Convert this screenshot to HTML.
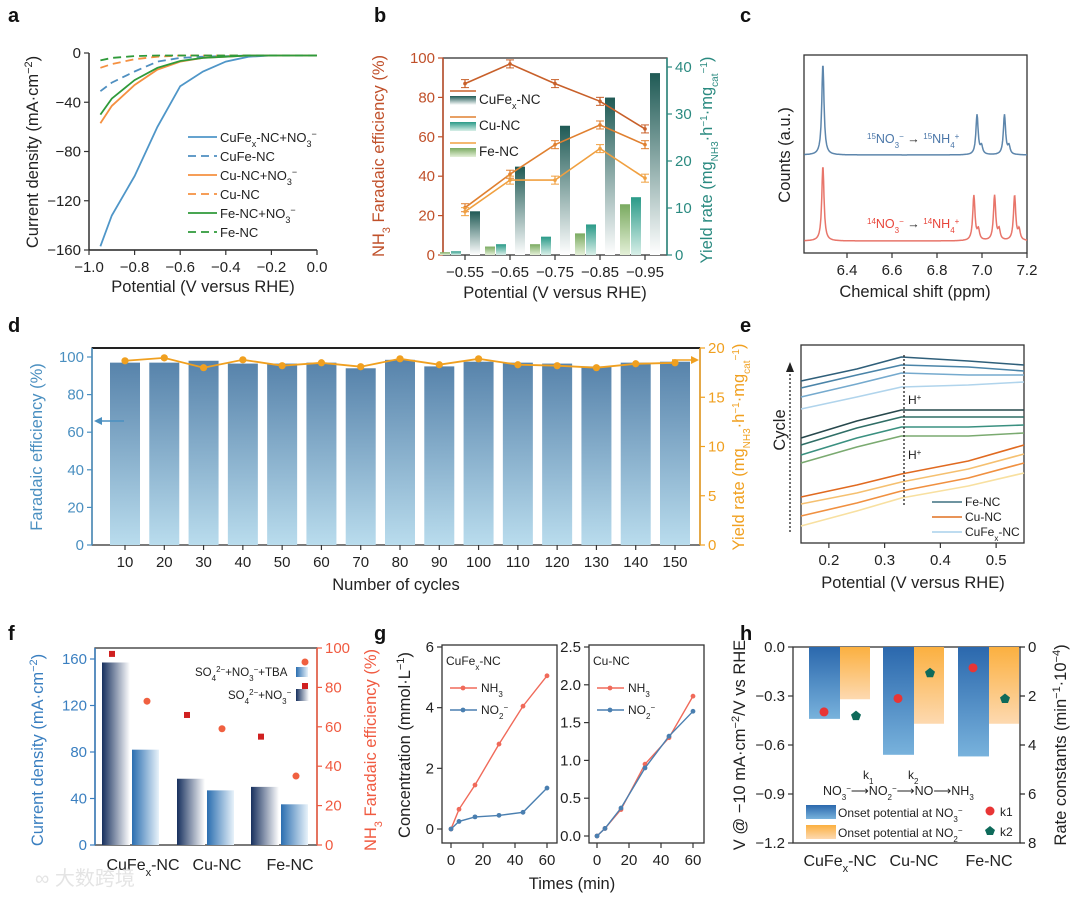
<!DOCTYPE html>
<html><head><meta charset="utf-8"><style>
body{margin:0;background:#fff}
svg{display:block;font-family:"Liberation Sans","Noto Sans CJK SC",sans-serif}
</style></head><body>
<svg id="fig" width="1080" height="898" viewBox="0 0 1080 898" xmlns="http://www.w3.org/2000/svg">
<defs>
<linearGradient id="gB1" x1="0" y1="0" x2="0" y2="1"><stop offset="0" stop-color="#1f5a55"/><stop offset="1" stop-color="#ffffff"/></linearGradient>
<linearGradient id="gB2" x1="0" y1="0" x2="0" y2="1"><stop offset="0" stop-color="#2a9a88"/><stop offset="1" stop-color="#d8efe8"/></linearGradient>
<linearGradient id="gB3" x1="0" y1="0" x2="0" y2="1"><stop offset="0" stop-color="#7aaa60"/><stop offset="1" stop-color="#e4f0d8"/></linearGradient>
<linearGradient id="gD" x1="0" y1="0" x2="0" y2="1"><stop offset="0" stop-color="#5783ab"/><stop offset="1" stop-color="#b9dced"/></linearGradient>
<linearGradient id="gF1" x1="0" y1="0" x2="1" y2="0"><stop offset="0" stop-color="#17305e"/><stop offset="1" stop-color="#ffffff"/></linearGradient>
<linearGradient id="gF2" x1="0" y1="0" x2="1" y2="0"><stop offset="0" stop-color="#2a6eb0"/><stop offset="1" stop-color="#e8f2fa"/></linearGradient>
<linearGradient id="gH1" x1="0" y1="0" x2="0" y2="1"><stop offset="0" stop-color="#2b68ad"/><stop offset="1" stop-color="#78b2dc"/></linearGradient>
<linearGradient id="gH2" x1="0" y1="0" x2="0" y2="1"><stop offset="0" stop-color="#fbb040"/><stop offset="1" stop-color="#fdd9b0"/></linearGradient>
</defs>
</svg>
<script>
// ---- data arrays ----
// a
const aPot=[-0.95,-0.9,-0.8,-0.7,-0.6,-0.5,-0.4,-0.3,-0.2,-0.1,0];
const aCuFeNO3=[-157,-132,-100,-60,-27,-15,-7,-3,-2,-2,-2];
const aCuFe=[-31,-24,-15,-7,-4,-3,-2.5,-2,-2,-2,-2];
const aCuNO3=[-57,-43,-26,-13.5,-7,-4,-3,-2,-2,-2,-2];
const aCu=[-12,-9,-5,-3,-2,-2,-2,-2,-2,-2,-2];
const aFeNO3=[-50,-37,-22,-12,-6.5,-4,-3,-2,-2,-2,-2];
const aFe=[-6,-4,-2.5,-2,-2,-2,-2,-2,-2,-2,-2];
const aXTicks=[-1,-0.8,-0.6,-0.4,-0.2,0];
const aYTicks=[0,-40,-80,-120,-160];
// b
const bCats=["−0.55","−0.65","−0.75","−0.85","−0.95"];
const bYieldFe=[0.6,1.8,2.3,4.6,10.8];
const bYieldCu=[0.8,2.3,3.9,6.5,12.3];
const bYieldCuFe=[9.3,18.8,27.5,33.5,38.7];
const bFECuFe=[87,97,87,78,64];
const bFECu=[24,41,56,66,56];
const bFEFe=[22,38,38,54,39];
const bLTicks=[0,20,40,60,80,100];
const bRTicks=[0,10,20,30,40];
// c
const cTicks=[6.4,6.6,6.8,7.0,7.2];
const cPeaks15=[6.293,6.978,6.998,7.10,7.12];
const cH15=[91,40,8,40,8];
const cPeaks14=[6.293,6.964,6.984,7.056,7.076,7.145,7.165];
const cH14=[75,45,10,45,10,45,10];
// d
const dCycles=[10,20,30,40,50,60,70,80,90,100,110,120,130,140,150];
const dFE=[97,97,98,96.5,96.5,97,94,98.5,95,97.5,97,96.5,95,97,97.5];
const dYield=[18.7,19.0,18.0,18.8,18.2,18.5,18.1,18.9,18.3,18.9,18.3,18.2,18.0,18.4,18.5];
const dLTicks=[0,20,40,60,80,100];
const dRTicks=[0,5,10,15,20];
// e
const ePot=[0.15,0.25,0.33,0.45,0.55];
const eCurves=[[8.1,8.7,9.3,9.1,8.9],[7.75,8.4,8.9,8.8,8.6],[7.3,7.95,8.5,8.4,8.4],[6.7,7.3,7.8,7.9,8.05],
 [5.25,6.1,6.65,6.65,6.65],[4.9,5.75,6.3,6.3,6.3],[4.4,5.25,5.8,5.8,5.9],[4.0,4.8,5.35,5.35,5.5],
 [2.3,2.9,3.45,4.1,4.9],[1.95,2.5,3.05,3.7,4.45],[1.35,2.0,2.6,3.25,4.0],[0.85,1.6,2.25,2.85,3.5]];
const eTicks=[0.2,0.3,0.4,0.5];
// f
const fCats=["CuFe<tspan baseline-shift='sub' font-size='11'>x</tspan>-NC","Cu-NC","Fe-NC"];
const fCurDark=[157,57,50];
const fCurLight=[82,47,35];
const fFEsq=[97,66,55];
const fFEci=[73,59,35];
const fLTicks=[0,40,80,120,160];
const fRTicks=[0,20,40,60,80,100];
// g
const gTime=[0,5,15,30,45,60];
const gNH3a=[0,0.65,1.45,2.8,4.05,5.05];
const gNO2a=[0,0.25,0.4,0.45,0.55,1.35];
const gNH3b=[0,0.1,0.35,0.95,1.3,1.85];
const gNO2b=[0,0.1,0.37,0.9,1.32,1.65];
const gYa=[0,2,4,6];
const gYb=[0,0.5,1.0,1.5,2.0,2.5];
const gX=[0,20,40,60];
// h
const hCats=["CuFe<tspan baseline-shift='sub' font-size='11'>x</tspan>-NC","Cu-NC","Fe-NC"];
const hOnsetNO3=[-0.44,-0.66,-0.67];
const hOnsetNO2=[-0.32,-0.47,-0.47];
const hK1=[2.65,2.1,0.85];
const hK2=[2.8,1.05,2.1];
const hLTicks=[0,-0.3,-0.6,-0.9,-1.2];
const hRTicks=[0,2,4,6,8];

// ---- helpers ----
const NS="http://www.w3.org/2000/svg";
const S=document.getElementById('fig');
function mk(t,a,p){const e=document.createElementNS(NS,t);for(const k in a)e.setAttribute(k,a[k]);(p||S).appendChild(e);return e;}
function tx(x,y,s,a,p){const e=mk('text',Object.assign({x:x,y:y,'font-size':15,fill:'#222'},a||{}),p);e.innerHTML=s;return e;}
function lin(d0,d1,r0,r1){return v=>r0+(v-d0)*(r1-r0)/(d1-d0);}
function grp(name){const g=mk('g',{});return g;}
function fmt(v,d){return (v<0?'−':'')+Math.abs(v).toFixed(d);}
function box(g,x0,y0,x1,y1,col){const r=mk('rect',{x:x0,y:y0,width:x1-x0,height:y1-y0,fill:'none',stroke:col||'#333','stroke-width':1.3},g);}
function xt(g,ticks,sx,y,d,lab){ticks.forEach((v,i)=>{const x=sx(v);mk('line',{x1:x,x2:x,y1:y,y2:y+5,stroke:'#333','stroke-width':1.2},g);const t=tx(x,y+22,lab?lab[i]:fmt(v,d),{'text-anchor':'middle'},g);});}
function yt(g,ticks,sy,x,d,col,right){ticks.forEach(v=>{const y=sy(v);mk('line',{x1:x,x2:right?x+5:x-5,y1:y,y2:y,stroke:col||'#333','stroke-width':1.2},g);const t=tx(right?x+8:x-8,y+5,fmt(v,d),{'text-anchor':right?'start':'end',fill:col||'#222'},g);});}
function ytitle(g,x,y,s,col,name){const t=tx(x,y,s,{'text-anchor':'middle',transform:`rotate(-90 ${x} ${y})`,'font-size':16.5,fill:col||'#222'},g);return t;}
function xtitle(g,x,y,s,name){const t=tx(x,y,s,{'text-anchor':'middle','font-size':16.5},g);return t;}
function pl(g,xs,ys,sx,sy,a){const pts=xs.map((v,i)=>sx(v).toFixed(1)+','+sy(ys[i]).toFixed(1)).join(' ');return mk('polyline',Object.assign({points:pts,fill:'none'},a),g);}
function letter(x,y,s){const t=tx(x,y,s,{'font-size':20,'font-weight':'bold',fill:'#111'});}
['a',8,22,'b',374,22,'c',740,22,'d',8,332,'e',740,332,'f',8,640,'g',374,640,'h',740,640].forEach((v,i,arr)=>{if(i%3==0)letter(arr[i+1],arr[i+2],v);});

// ---- panel a ----
(function(){const g=grp('panel-a-lsv');
const sx=lin(-1,0,89,317),sy=lin(-160,0,250,53);
mk('line',{x1:89,x2:89,y1:53,y2:250,stroke:'#222','stroke-width':1.4},g);
mk('line',{x1:89,x2:317,y1:250,y2:250,stroke:'#222','stroke-width':1.4},g);
xt(g,aXTicks,sx,250,1);yt(g,aYTicks,sy,89,0);
ytitle(g,38,152,'Current density (mA·cm<tspan baseline-shift="super" font-size="11">−2</tspan>)','#222','y-axis-title');
xtitle(g,203,292,'Potential (V versus RHE)','x-axis-title');
const ser=[[aCuFeNO3,'#4f96c8',''],[aCuFe,'#4f8fc0','8 5'],[aCuNO3,'#f59040',''],[aCu,'#f59040','8 5'],[aFeNO3,'#2f9a3a',''],[aFe,'#2f9a3a','8 5']];
ser.forEach(s=>{const l=pl(g,aPot,s[0],sx,sy,{stroke:s[1],'stroke-width':1.8,'stroke-dasharray':s[2]});

});
const labs=['CuFe<tspan baseline-shift="sub" font-size="9">x</tspan>-NC+NO<tspan baseline-shift="sub" font-size="9">3</tspan><tspan baseline-shift="super" font-size="9">−</tspan>','CuFe-NC','Cu-NC+NO<tspan baseline-shift="sub" font-size="9">3</tspan><tspan baseline-shift="super" font-size="9">−</tspan>','Cu-NC','Fe-NC+NO<tspan baseline-shift="sub" font-size="9">3</tspan><tspan baseline-shift="super" font-size="9">−</tspan>','Fe-NC'];
labs.forEach((s,i)=>{const y=137+i*19;const e=mk('line',{x1:188,x2:217,y1:y,y2:y,stroke:ser[i][1],'stroke-width':1.8,'stroke-dasharray':ser[i][2]},g);
const t=tx(220,y+5,s,{'font-size':13},g);});
})();

// ---- panel b ----
(function(){const g=grp('panel-b-fe-yield');
const cx=i=>465+i*45,sl=lin(0,100,255,58),sr=lin(0,40,255,67);
box(g,443,58,667,255,'#333');
mk('line',{x1:443,x2:443,y1:58,y2:255,stroke:'#c0502a','stroke-width':1.5},g);
mk('line',{x1:667,x2:667,y1:58,y2:255,stroke:'#2a8a80','stroke-width':1.5},g);
xt(g,[0,1,2,3,4],cx,255,0,bCats);
yt(g,bLTicks,sl,443,0,'#c0502a');yt(g,bRTicks,sr,667,0,'#2a8a80',true);
ytitle(g,384,156,'NH<tspan baseline-shift="sub" font-size="11">3</tspan> Faradaic efficiency (%)','#c0502a','left-y-axis-title');
ytitle(g,712,160,'Yield rate (mg<tspan baseline-shift="sub" font-size="10">NH3</tspan>·h<tspan baseline-shift="super" font-size="10">−1</tspan>·mg<tspan baseline-shift="sub" font-size="10">cat</tspan><tspan baseline-shift="super" font-size="10">−1</tspan>)','#2a8a80','right-y-axis-title');
xtitle(g,555,298,'Potential (V versus RHE)','x-axis-title');
[[bYieldFe,-20,'gB3'],[bYieldCu,-9,'gB2'],[bYieldCuFe,10,'gB1']].forEach(s=>s[0].forEach((v,i)=>{const x=cx(i)+s[1]-5;
const r=mk('rect',{x:x,y:sr(v),width:10,height:255-sr(v),fill:`url(#${s[2]})`},g);

}));
[[bFECuFe,'#c8602a'],[bFECu,'#e08030'],[bFEFe,'#f0a040']].forEach(s=>{const l=pl(g,[0,1,2,3,4],s[0],cx,sl,{stroke:s[1],'stroke-width':1.6});


s[0].forEach((v,i)=>{const y=sl(v);mk('line',{x1:cx(i),x2:cx(i),y1:y-4,y2:y+4,stroke:s[1],'stroke-width':1.2},g);mk('line',{x1:cx(i)-4,x2:cx(i)+4,y1:y-4,y2:y-4,stroke:s[1]},g);mk('line',{x1:cx(i)-4,x2:cx(i)+4,y1:y+4,y2:y+4,stroke:s[1]},g);mk('circle',{cx:cx(i),cy:y,r:1.8,fill:s[1]},g);});});
const L=[['#c8602a','gB1','CuFe<tspan baseline-shift="sub" font-size="9">x</tspan>-NC'],['#e08030','gB2','Cu-NC'],['#f0a040','gB3','Fe-NC']];
L.forEach((s,i)=>{const y=97+i*26;mk('line',{x1:450,x2:476,y1:y-6,y2:y-6,stroke:s[0],'stroke-width':1.6},g);const r=mk('rect',{x:450,y:y-1,width:26,height:9,fill:`url(#${s[1]})`},g);
const t=tx(479,y+7,s[2],{'font-size':13.5},g);});
})();

// ---- panel c ----
(function(){const g=grp('panel-c-nmr');
const sx=lin(6.4,7.2,847,1027);
box(g,804,55,1027,253);
xt(g,cTicks,sx,253,1);
ytitle(g,790,155,'Counts (a.u.)','#222','y-axis-title');
xtitle(g,915,297,'Chemical shift (ppm)','x-axis-title');
function spec(peaks,hs,base,col,name){const xs=[],ys=[];for(let x=6.21;x<=7.2;x+=0.002){let y=0;peaks.forEach((p,i)=>{y+=hs[i]/(1+Math.pow((x-p)/0.006,2));});xs.push(x);ys.push(base-y);}
const l=pl(g,xs,ys,sx,v=>v,{stroke:col,'stroke-width':1.5});}
spec(cPeaks15,cH15,155,'#5d86ac','spectrum-15N');
spec(cPeaks14,cH14,241,'#e8756a','spectrum-14N');
let t=tx(867,143,'<tspan baseline-shift="super" font-size="8">15</tspan>NO<tspan baseline-shift="sub" font-size="8">3</tspan><tspan baseline-shift="super" font-size="8">−</tspan> <tspan fill="#222">→</tspan> <tspan baseline-shift="super" font-size="8">15</tspan>NH<tspan baseline-shift="sub" font-size="8">4</tspan><tspan baseline-shift="super" font-size="8">+</tspan>',{'font-size':12.5,fill:'#4a76a8'},g);

t=tx(867,228,'<tspan baseline-shift="super" font-size="8">14</tspan>NO<tspan baseline-shift="sub" font-size="8">3</tspan><tspan baseline-shift="super" font-size="8">−</tspan> <tspan fill="#222">→</tspan> <tspan baseline-shift="super" font-size="8">14</tspan>NH<tspan baseline-shift="sub" font-size="8">4</tspan><tspan baseline-shift="super" font-size="8">+</tspan>',{'font-size':12.5,fill:'#e8453a'},g);

})();

// ---- panel d ----
(function(){const g=grp('panel-d-cycling');
const sx=lin(10,150,125,675),sl=lin(0,100,545,357),sr=lin(0,20,545,348);
box(g,92,348,700,545);
mk('line',{x1:92,x2:700,y1:348,y2:348,stroke:'#222','stroke-width':2},g);
mk('line',{x1:92,x2:92,y1:348,y2:545,stroke:'#4a8fc0','stroke-width':1.5},g);
mk('line',{x1:700,x2:700,y1:348,y2:545,stroke:'#f0a020','stroke-width':1.5},g);
xt(g,dCycles,sx,545,0);
yt(g,dLTicks,sl,92,0,'#4a8fc0');yt(g,dRTicks,sr,700,0,'#f0a020',true);
ytitle(g,42,447,'Faradaic efficiency (%)','#4a8fc0','left-y-axis-title');
ytitle(g,744,447,'Yield rate (mg<tspan baseline-shift="sub" font-size="10">NH3</tspan>·h<tspan baseline-shift="super" font-size="10">−1</tspan>·mg<tspan baseline-shift="sub" font-size="10">cat</tspan><tspan baseline-shift="super" font-size="10">−1</tspan>)','#f0a020','right-y-axis-title');
xtitle(g,396,590,'Number of cycles','x-axis-title');
dFE.forEach((v,i)=>{const r=mk('rect',{x:sx(dCycles[i])-15,y:sl(v),width:30,height:545-sl(v),fill:'url(#gD)'},g);

});
const l=pl(g,dCycles,dYield,sx,sr,{stroke:'#f0a020','stroke-width':1.8});


dYield.forEach((v,i)=>{const c=mk('circle',{cx:sx(dCycles[i]),cy:sr(v),r:3.6,fill:'#f0a020'},g);});
mk('line',{x1:98,x2:124,y1:421,y2:421,stroke:'#4a8fc0','stroke-width':1.6},g);mk('polygon',{points:'94,421 102,417 102,425',fill:'#4a8fc0'},g);
mk('line',{x1:672,x2:696,y1:360,y2:360,stroke:'#f0a020','stroke-width':1.6},g);mk('polygon',{points:'699,360 691,356 691,364',fill:'#f0a020'},g);
})();

// ---- panel e ----
(function(){const g=grp('panel-e-lsv-cycles');
const sx=lin(0.15,0.55,801,1024),sy=lin(0,10,543,343);
box(g,801,345,1024,543);
xt(g,eTicks,sx,543,1);
xtitle(g,913,588,'Potential (V versus RHE)','x-axis-title');
const cols=['#2f5f7a','#4a84a8','#75aace','#b0d4ec','#27484c','#2f6e66','#3a9080','#7aaa70','#e06a20','#f5c070','#f09040','#f8e0a0'];
eCurves.forEach((c,i)=>{const l=pl(g,ePot,c,sx,sy,{stroke:cols[i],'stroke-width':1.6,'stroke-linejoin':'round'});

});
mk('line',{x1:904,x2:904,y1:355,y2:505,stroke:'#222','stroke-width':1.3,'stroke-dasharray':'2 2'},g);
let t=tx(908,404,'H<tspan baseline-shift="super" font-size="8">+</tspan>',{'font-size':12},g);
t=tx(908,459,'H<tspan baseline-shift="super" font-size="8">+</tspan>',{'font-size':12},g);
mk('line',{x1:790,x2:790,y1:532,y2:372,stroke:'#222','stroke-width':1.3,'stroke-dasharray':'2 2'},g);mk('polygon',{points:'790,362 786,372 794,372',fill:'#222'},g);
ytitle(g,785,430,'Cycle','#222','cycle-arrow-label');
[['#3f7080','Fe-NC'],['#e07020','Cu-NC'],['#a8d0ec','CuFe<tspan baseline-shift="sub" font-size="8">x</tspan>-NC']].forEach((s,i)=>{const y=502+i*15;mk('line',{x1:932,x2:962,y1:y,y2:y,stroke:s[0],'stroke-width':1.6},g);
const t=tx(965,y+4,s[1],{'font-size':12},g);});
})();

// ---- panel f ----
(function(){const g=grp('panel-f-current-fe');
const sl=lin(0,160,845,659),sr=lin(0,100,845,648),gx=[102,177,251];
box(g,95,648,317,845);
mk('line',{x1:95,x2:95,y1:648,y2:845,stroke:'#3a7fc0','stroke-width':1.5},g);
mk('line',{x1:317,x2:317,y1:648,y2:845,stroke:'#f05a40','stroke-width':1.5},g);
yt(g,fLTicks,sl,95,0,'#3a7fc0');yt(g,fRTicks,sr,317,0,'#f05a40',true);
ytitle(g,43,750,'Current density (mA·cm<tspan baseline-shift="super" font-size="11">−2</tspan>)','#3a7fc0','left-y-axis-title');
ytitle(g,376,750,'NH<tspan baseline-shift="sub" font-size="11">3</tspan> Faradaic efficiency (%)','#f05a40','right-y-axis-title');
fCats.forEach((s,i)=>{const t=tx([143,217,290][i],870,s,{'text-anchor':'middle','font-size':16},g);});
fCurDark.forEach((v,i)=>{const r=mk('rect',{x:gx[i],y:sl(v),width:28,height:845-sl(v),fill:'url(#gF1)'},g);});
fCurLight.forEach((v,i)=>{const r=mk('rect',{x:gx[i]+30,y:sl(v),width:27,height:845-sl(v),fill:'url(#gF2)'},g);});
fFEsq.forEach((v,i)=>{const r=mk('rect',{x:gx[i]+7,y:sr(v)-3,width:6,height:6,fill:'#d02020'},g);});
fFEci.forEach((v,i)=>{const c=mk('circle',{cx:gx[i]+45,cy:sr(v),r:3.5,fill:'#f06040'},g);});
let t=tx(195,676,'SO<tspan baseline-shift="sub" font-size="8">4</tspan><tspan baseline-shift="super" font-size="8">2−</tspan>+NO<tspan baseline-shift="sub" font-size="8">3</tspan><tspan baseline-shift="super" font-size="8">−</tspan>+TBA',{'font-size':11.5},g);
t=tx(228,699,'SO<tspan baseline-shift="sub" font-size="8">4</tspan><tspan baseline-shift="super" font-size="8">2−</tspan>+NO<tspan baseline-shift="sub" font-size="8">3</tspan><tspan baseline-shift="super" font-size="8">−</tspan>',{'font-size':11.5},g);
mk('rect',{x:296,y:667,width:12,height:10,fill:'url(#gF2)'},g);mk('circle',{cx:305,cy:662,r:3.5,fill:'#f06040'},g);
mk('rect',{x:296,y:689,width:13,height:12,fill:'url(#gF1)'},g);mk('rect',{x:302,y:683,width:6,height:6,fill:'#d02020'},g);
t=tx(35,885,'∞ 大数跨境',{'font-size':20,fill:'#e4e4e4'},g);
})();

// ---- panel g ----
(function(){const g=grp('panel-g-concentration');
function sub(x0,x1,sx,sy,yt0,yd,dN,dO,title){box(g,x0,645,x1,843);xt(g,gX,sx,843,0);yt(g,yt0,sy,x0,yd);
let t=tx(x0+4,665,title,{'font-size':12},g);
[[dN,'#f06a5a'],[dO,'#4a7fb0']].forEach(s=>{const l=pl(g,gTime,s[0],sx,sy,{stroke:s[1],'stroke-width':1.4});s[0].forEach((v,i)=>mk('circle',{cx:sx(gTime[i]),cy:sy(v),r:2.4,fill:s[1]},g));});
[['#f06a5a','NH<tspan baseline-shift="sub" font-size="8">3</tspan>'],['#4a7fb0','NO<tspan baseline-shift="sub" font-size="8">2</tspan><tspan baseline-shift="super" font-size="8">−</tspan>']].forEach((s,i)=>{const y=688+i*22;mk('line',{x1:x0+8,x2:x0+35,y1:y,y2:y,stroke:s[0],'stroke-width':1.4},g);mk('circle',{cx:x0+21,cy:y,r:2.4,fill:s[0]},g);const t=tx(x0+39,y+4,s[1],{'font-size':12},g);});}
sub(442,557,lin(0,60,451,547),lin(0,6,829,647),gYa,0,gNH3a,gNO2a,'CuFe<tspan baseline-shift="sub" font-size="8">x</tspan>-NC');
sub(589,704,lin(0,60,597,693),lin(0,2.5,836,647),gYb,1,gNH3b,gNO2b,'Cu-NC');
ytitle(g,410,745,'Concentration (mmol·L<tspan baseline-shift="super" font-size="11">−1</tspan>)','#222','y-axis-title');
xtitle(g,572,889,'Times (min)','x-axis-title');
})();

// ---- panel h ----
(function(){const g=grp('panel-h-onset-rate');
const sl=lin(-1.2,0,843,647),sr=lin(0,8,647,843),gc=[840,914,989];
box(g,793,647,1020,843);
yt(g,hLTicks,sl,793,1);yt(g,hRTicks,sr,1020,0,'#222',true);
ytitle(g,745,745,'V @ −10 mA·cm<tspan baseline-shift="super" font-size="11">−2</tspan>/V vs RHE','#222','left-y-axis-title');
ytitle(g,1066,745,'Rate constants (min<tspan baseline-shift="super" font-size="11">−1</tspan>·10<tspan baseline-shift="super" font-size="11">−4</tspan>)','#222','right-y-axis-title');
hCats.forEach((s,i)=>{const t=tx(gc[i],866,s,{'text-anchor':'middle','font-size':16},g);});
hOnsetNO3.forEach((v,i)=>{const r=mk('rect',{x:gc[i]-31,y:647,width:31,height:sl(v)-647,fill:'url(#gH1)'},g);});
hOnsetNO2.forEach((v,i)=>{const r=mk('rect',{x:gc[i],y:647,width:30,height:sl(v)-647,fill:'url(#gH2)'},g);});
hK1.forEach((v,i)=>{const c=mk('circle',{cx:gc[i]-16,cy:sr(v),r:4.5,fill:'#e83535'},g);});
hK2.forEach((v,i)=>{const x=gc[i]+16,y=sr(v);const p=mk('polygon',{points:`${x},${y-5} ${x+5},${y-1} ${x+3},${y+4.5} ${x-3},${y+4.5} ${x-5},${y-1}`,fill:'#0e6a5a'},g);});
let t=tx(823,795,'NO<tspan baseline-shift="sub" font-size="8">3</tspan><tspan baseline-shift="super" font-size="8">−</tspan>⟶NO<tspan baseline-shift="sub" font-size="8">2</tspan><tspan baseline-shift="super" font-size="8">−</tspan>⟶NO⟶NH<tspan baseline-shift="sub" font-size="8">3</tspan>',{'font-size':12.5},g);
tx(863,779,'k<tspan baseline-shift="sub" font-size="8">1</tspan>',{'font-size':12},g);tx(908,779,'k<tspan baseline-shift="sub" font-size="8">2</tspan>',{'font-size':12},g);
mk('rect',{x:806,y:805,width:30,height:14,fill:'url(#gH1)'},g);mk('rect',{x:806,y:825,width:30,height:14,fill:'url(#gH2)'},g);
t=tx(838,817,'Onset potential at NO<tspan baseline-shift="sub" font-size="8">3</tspan><tspan baseline-shift="super" font-size="8">−</tspan>',{'font-size':12},g);
t=tx(838,837,'Onset potential at NO<tspan baseline-shift="sub" font-size="8">2</tspan><tspan baseline-shift="super" font-size="8">−</tspan>',{'font-size':12},g);
mk('circle',{cx:990,cy:811,r:4.5,fill:'#e83535'},g);tx(1000,816,'k1',{'font-size':12},g);
mk('polygon',{points:'990,826 995,830 993,835 987,835 985,830',fill:'#0e6a5a'},g);tx(1000,836,'k2',{'font-size':12},g);
})();
</script>
</body></html>
